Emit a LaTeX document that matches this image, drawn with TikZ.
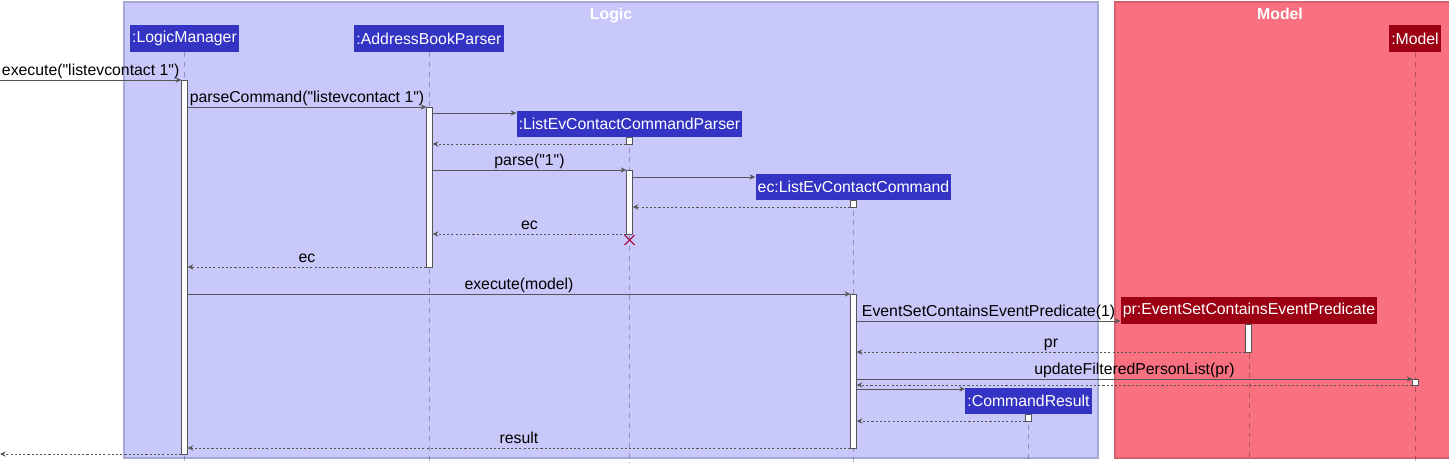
\documentclass[tikz,border=0pt]{standalone}
\usepackage{fontspec}
\setmainfont{Liberation Sans}
\usepackage{xcolor}
\usepackage{tikz}
\usetikzlibrary{arrows.meta}
\usetikzlibrary{fit,shapes.misc}
\definecolor{logicbg}{HTML}{C8C8FA}
\definecolor{logicline}{HTML}{A8A8D8}
\definecolor{logicobj}{HTML}{3333C4}
\definecolor{modelbg}{HTML}{F97181}
\definecolor{modelline}{HTML}{D8606E}
\definecolor{modelobj}{HTML}{9D0012}
\definecolor{msgcol}{HTML}{555555}
\definecolor{killcol}{HTML}{A80036}
\newcommand{\fsz}{\fontsize{9.0}{11}\selectfont}
\newcommand{\dq}{\textquotedbl{}}

\begin{document}
\begin{tikzpicture}[x=0.02cm,y=-0.02cm,>={Stealth[length=3.2pt,width=3pt]},
  obj/.style={fill=logicobj,text=white,font=\fsz,inner xsep=1.2pt,inner ysep=0pt,minimum height=15.3pt},
  mobj/.style={obj,fill=modelobj},
  life/.style={black,opacity=0.28,line width=0.4pt,dash pattern=on 2.8pt off 2.8pt},
  actbar/.style={draw=msgcol,fill=white,line width=0.55pt,inner sep=0pt},
  msg/.style={draw=msgcol,line width=0.55pt,->},
  ret/.style={msg,dash pattern=on 1.2pt off 1.2pt},
  lbl/.style={font=\fsz,anchor=base,yshift=2.3pt},
  title/.style={font=\fsz\bfseries,text=white,anchor=base}]
\useasboundingbox (0,0) rectangle (1449,463);
% boxes
\draw [fill=logicbg,draw=logicline,line width=0.6pt] (124,2) rectangle (1098,458);
\draw [fill=modelbg,draw=modelline,line width=0.6pt] (1115,2) rectangle (1450,458);
\node[title] (logicT) at (611,19.5) {Logic};
\node[title] (modelT) at (1280,19.5) {Model};
% participants
\node[obj] (lm) at (184.5,38.5) {:LogicManager};
\node[obj] (abp) at (429,38.5) {:AddressBookParser};
\node[obj] (lecp) at (629.5,124) {:ListEvContactCommandParser};
\node[obj] (ecc) at (853.5,187) {ec:ListEvContactCommand};
\node[mobj] (pr) at (1249,310.5) {pr:EventSetContainsEventPredicate};
\node[obj] (cr) at (1028.5,401) {:CommandResult};
\node[mobj] (mdl) at (1415,38.5) {:Model};
% lifelines
\foreach \p in {lm,abp,lecp,ecc,pr,cr,mdl}
  \draw[life] (\p.south) -- (\p.south |- 0,463);
% activations
\node[actbar,fit={(181.8,80) (187.2,454)}] (lmAct) {};
\node[actbar,fit={(426.8,107) (432.2,267)}] (abpAct) {};
\node[actbar,fit={(626.8,137) (632.2,144)}] (lecpAct1) {};
\node[actbar,fit={(626.8,170) (632.2,234)}] (lecpAct2) {};
\node[actbar,fit={(850.8,200) (856.2,207)}] (eccAct1) {};
\node[actbar,fit={(850.8,294) (856.2,448)}] (eccAct2) {};
\node[actbar,fit={(1245.8,324) (1251.2,352)}] (prAct) {};
\node[actbar,fit={(1412.8,379) (1418.2,385)}] (mdlAct) {};
\node[actbar,fit={(1025.8,414) (1031.2,421)}] (crAct) {};
\node[draw=killcol,cross out,line width=0.6pt,minimum size=5pt,inner sep=0pt] (kill) at (629.5,240) {};
% messages
\coordinate (in) at (0,80);
\coordinate (out) at (0,454);
\draw[msg] (in) -- node[lbl]{execute(\dq listevcontact 1\dq)} (lmAct.west |- in);
\draw[msg] (lmAct.east |- 0,107) -- node[lbl]{parseCommand(\dq listevcontact 1\dq)} (abpAct.west |- 0,107);
\draw[msg] (abpAct.east |- 0,113) -- (lecp.west |- 0,113);
\draw[ret] (lecpAct1.west |- 0,144) -- (abpAct.east |- 0,144);
\draw[msg] (abpAct.east |- 0,170) -- node[lbl]{parse(\dq 1\dq)} (lecpAct2.west |- 0,170);
\draw[msg] (lecpAct2.east |- 0,177) -- (ecc.west |- 0,177);
\draw[ret] (eccAct1.west |- 0,207) -- (lecpAct2.east |- 0,207);
\draw[ret] (lecpAct2.west |- 0,234) -- node[lbl]{ec} (abpAct.east |- 0,234);
\draw[ret] (abpAct.west |- 0,267) -- node[lbl]{ec} (lmAct.east |- 0,267);
\draw[msg] (lmAct.east |- 0,294) -- node[lbl]{execute(model)} (eccAct2.west |- 0,294);
\draw[msg] (eccAct2.east |- 0,321) -- node[lbl]{EventSetContainsEventPredicate(1)} (pr.west |- 0,321);
\draw[ret] (prAct.west |- 0,352) -- node[lbl]{pr} (eccAct2.east |- 0,352);
\draw[msg] (eccAct2.east |- 0,379) -- node[lbl]{updateFilteredPersonList(pr)} (mdlAct.west |- 0,379);
\draw[ret] (mdlAct.west |- 0,385) -- (eccAct2.east |- 0,385);
\draw[msg] (eccAct2.east |- 0,389) -- (cr.west |- 0,389);
\draw[ret] (crAct.west |- 0,421) -- (eccAct2.east |- 0,421);
\draw[ret] (eccAct2.west |- 0,448) -- node[lbl]{result} (lmAct.east |- 0,448);
\draw[ret] (lmAct.west |- out) -- (out);
\end{tikzpicture}
\end{document}
